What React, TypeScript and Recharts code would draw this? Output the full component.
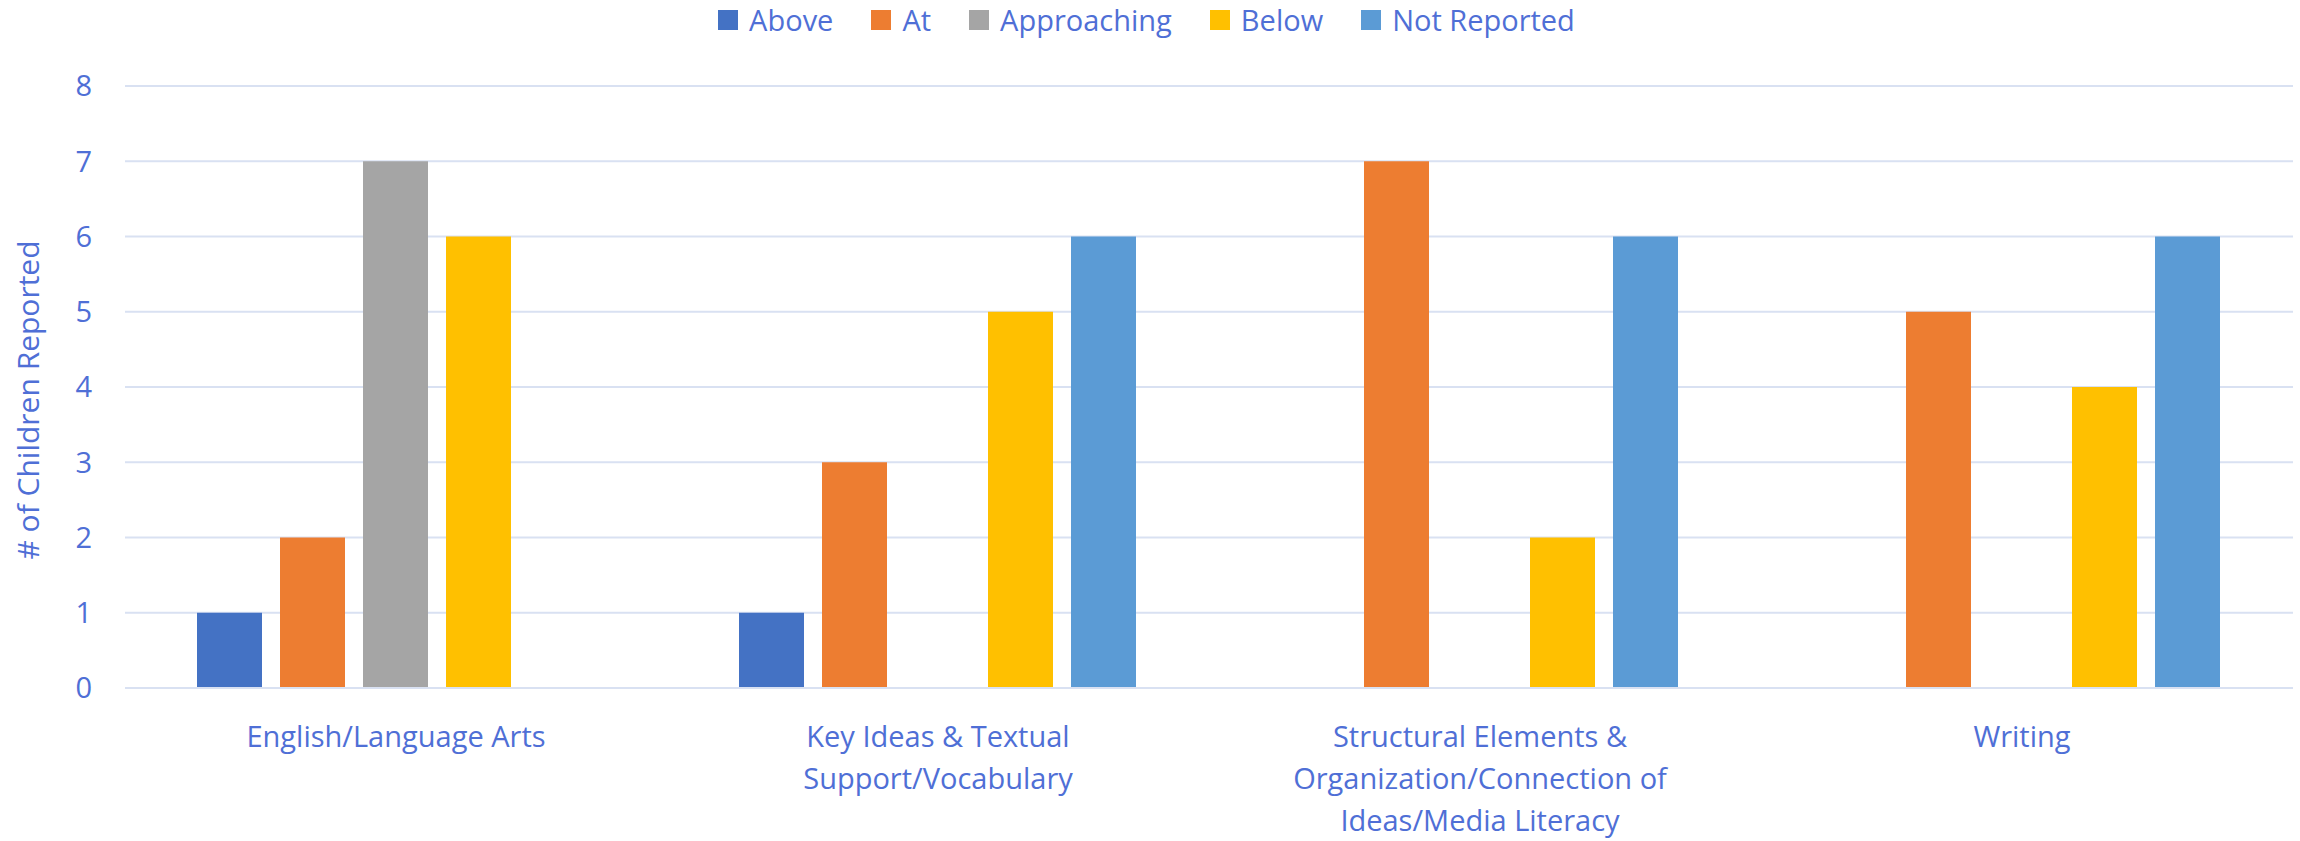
import React from 'react';
import { BarChart, Bar, XAxis, YAxis, CartesianGrid, Legend } from 'recharts';

const categoryLines = [
  ['English/Language Arts'],
  ['Key Ideas & Textual', 'Support/Vocabulary'],
  ['Structural Elements &', 'Organization/Connection of', 'Ideas/Media Literacy'],
  ['Writing'],
];
const categories = categoryLines.map((l) => l.join(' '));

const above = [1, 1, null, null];
const at = [2, 3, 7, 5];
const approaching = [7, null, null, null];
const below = [6, 5, 2, 4];
const notReported = [null, 6, 6, 6];

const yTicks = [0, 1, 2, 3, 4, 5, 6, 7, 8];

const series = [
  { key: 'above', name: 'Above', color: '#4472C4' },
  { key: 'at', name: 'At', color: '#ED7D31' },
  { key: 'approaching', name: 'Approaching', color: '#A5A5A5' },
  { key: 'below', name: 'Below', color: '#FFC000' },
  { key: 'notReported', name: 'Not Reported', color: '#5B9BD5' },
];

const data = categories.map((c, i) => ({
  category: c,
  above: above[i],
  at: at[i],
  approaching: approaching[i],
  below: below[i],
  notReported: notReported[i],
}));

const TEXT = '#4f6fd6';
const GRID = '#d9e1f2';
const FONT = '"Open Sans", "Noto Sans", sans-serif';

function CategoryTick({ x, y, payload }: any) {
  const lines = categoryLines[payload.index] ?? [payload.value];
  return (
    <text x={x} y={y} textAnchor="middle" fill={TEXT} fontSize={29} fontFamily={FONT}>
      {lines.map((l: string, i: number) => (
        <tspan key={i} x={x} dy={i === 0 ? 51 : 42}>
          {l}
        </tspan>
      ))}
    </text>
  );
}

function LegendContent() {
  return (
    <div style={{ display: 'flex', justifyContent: 'center', gap: 38, fontFamily: FONT, fontSize: 29, color: TEXT }}>
      {series.map((s) => (
        <div key={s.key} style={{ display: 'flex', alignItems: 'center', gap: 11 }}>
          <span style={{ width: 20, height: 20, background: s.color, display: 'inline-block' }} />
          <span>{s.name}</span>
        </div>
      ))}
    </div>
  );
}

function YLabel({ viewBox }: any) {
  const cx = viewBox.x + 27;
  const cy = viewBox.y + viewBox.height / 2 + 13;
  return (
    <text x={cx} y={cy} transform={`rotate(-90 ${cx} ${cy})`} textAnchor="middle" dominantBaseline="central" fill={TEXT} fontSize={30} fontFamily={FONT}>
      # of Children Reported
    </text>
  );
}

export default function App() {
  return (
    <div style={{ position: 'absolute', left: 0, top: 0, background: '#fff' }}>
      <BarChart
        width={2300}
        height={841}
        data={data}
        margin={{ top: 47, right: 7, left: 0, bottom: 0 }}
        barCategoryGap={72}
        barGap={18}
      >
        <CartesianGrid stroke={GRID} strokeWidth={2} vertical={false} />
        <XAxis
          dataKey="category"
          tick={<CategoryTick />}
          tickLine={false}
          axisLine={{ stroke: GRID, strokeWidth: 2 }}
          interval={0}
          height={153}
        />
        <YAxis
          domain={[0, 8]}
          ticks={yTicks}
          width={125}
          tickSize={0}
          tickMargin={33}
          axisLine={false}
          tickLine={false}
          tick={{ fill: TEXT, fontSize: 29, fontFamily: FONT }}
          label={<YLabel />}
        />
        <Legend verticalAlign="top" align="center" content={<LegendContent />} wrapperStyle={{ top: 0 }} />
        {series.map((s) => (
          <Bar key={s.key} dataKey={s.key} name={s.name} fill={s.color} isAnimationActive={false} />
        ))}
      </BarChart>
    </div>
  );
}
